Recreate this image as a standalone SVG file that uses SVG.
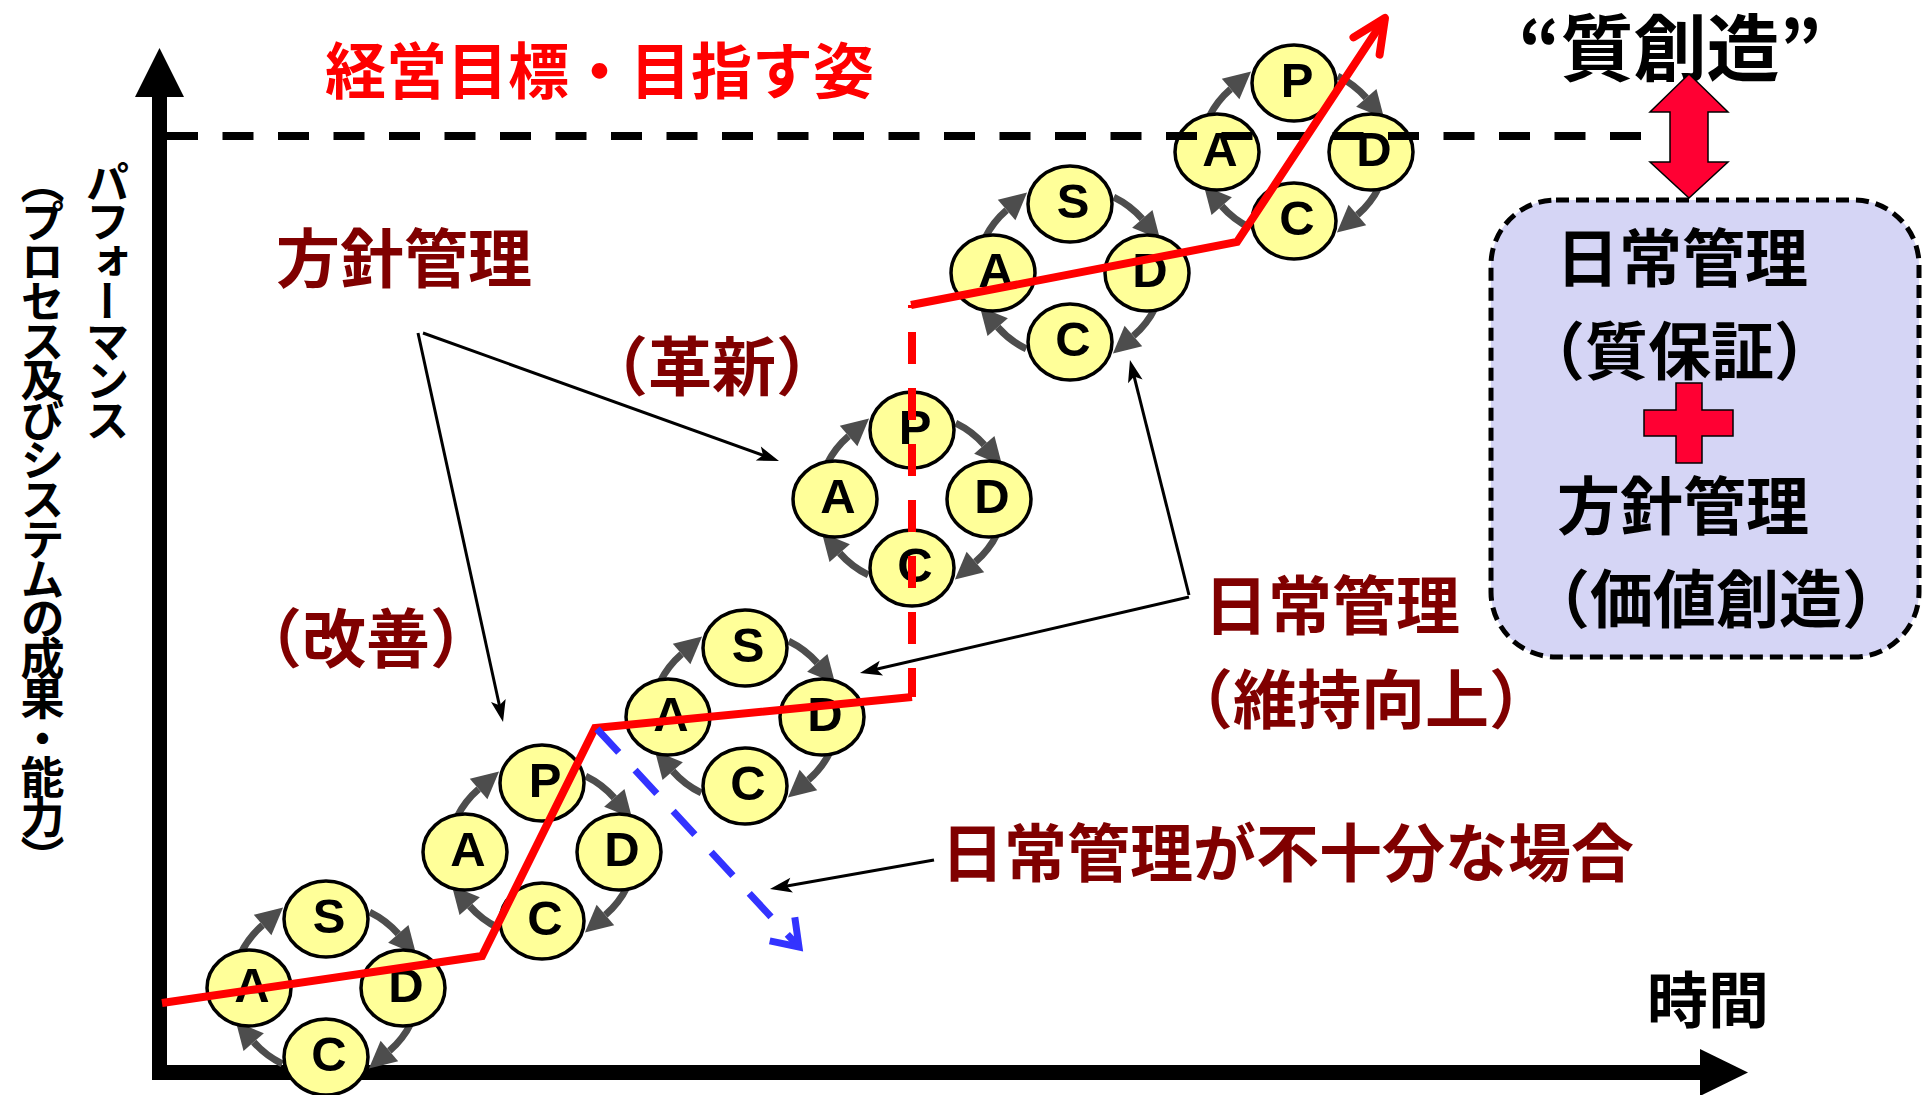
<svg xmlns="http://www.w3.org/2000/svg" width="1922" height="1095" viewBox="0 0 1922 1095">
<style>
  .jp { font-family: "Noto Sans CJK JP", "Noto Sans CJK SC", sans-serif; font-weight: 700; }
  .dr { fill: #800000; }
  .vert { writing-mode: vertical-rl; letter-spacing: -4.3px; }
  .node ellipse { fill: #FFFF99; stroke: #000; stroke-width: 3.5; }
  .node text { font-family: "Liberation Sans", Arial, sans-serif; font-weight: 700; font-size: 49px; text-anchor: middle; fill: #000; }
  .cyc { fill: none; stroke: #4D4D4D; stroke-width: 7; marker-end: url(#gh); }
  .thin { fill: none; stroke: #000; stroke-width: 3; marker-end: url(#ah); }
  .redline { fill: none; stroke: #FF0000; stroke-width: 8; }
  .blueline { fill: none; stroke: #3333FF; stroke-width: 7; }
  .block { fill: #FF0033; stroke: #000; stroke-width: 1.5; }
</style>
<defs>
  <marker id="gh" markerUnits="userSpaceOnUse" viewBox="-2 -16 32 32" markerWidth="32" markerHeight="32" refX="0" refY="0" orient="auto">
    <path d="M0,-13.5 L27,0 L0,13.5 z" fill="#4D4D4D"/>
  </marker>
  <marker id="ah" markerUnits="userSpaceOnUse" viewBox="-14 -10 26 20" markerWidth="26" markerHeight="20" refX="0" refY="0" orient="auto">
    <path d="M10,0 L-12,-7.5 L-7,0 L-12,7.5 z" fill="#000"/>
  </marker>
  <g id="arcs">
    <path class="cyc" d="M-85,-35 A93,86 0 0 1 -63.4,-62.9"/>
    <path class="cyc" d="M43.7,-75.9 A93,86 0 0 1 72.3,-54.1"/>
    <path class="cyc" d="M85,35 A93,86 0 0 1 63.4,62.9"/>
    <path class="cyc" d="M-43.7,75.9 A93,86 0 0 1 -72.3,54.1"/>
  </g>
</defs>
<rect width="1922" height="1095" fill="#FFFFFF"/>

<!-- axes -->
<g id="axes">
  <path d="M159.5,94 V1072.5 H1702" fill="none" stroke="#000" stroke-width="15"/>
  <polygon points="159.5,48 135,97 184,97" fill="#000"/>
  <polygon points="1748,1072.5 1700,1049 1700,1096" fill="#000"/>
</g>

<!-- right summary box -->
<g id="summary-box">
  <rect x="1491" y="200" width="428" height="457" rx="65" ry="65" fill="#D5D5F5" stroke="#000" stroke-width="5" stroke-dasharray="13 7"/>
  <text class="jp" x="1556" y="281" font-size="63" fill="#000">日常管理</text>
  <text class="jp" x="1522" y="374" font-size="63" fill="#000">（質保証）</text>
  <polygon class="block" points="1676,383 1702,383 1702,410 1733,410 1733,436 1702,436 1702,463 1676,463 1676,436 1644,436 1644,410 1676,410"/>
  <text class="jp" x="1557" y="529" font-size="63" fill="#000">方針管理</text>
  <text class="jp" x="1527" y="622" font-size="63" fill="#000">（価値創造）</text>
</g>

<!-- labels -->
<g id="label-goal"><text class="jp" x="325" y="94" font-size="61" fill="#FF0000">経営目標・目指す姿</text></g>
<g id="label-quality"><text class="jp" x="1670" y="75" font-size="73" text-anchor="middle" fill="#000">“質創造”</text></g>
<g id="label-hoshin"><text class="jp dr" x="276" y="282" font-size="64">方針管理</text></g>
<g id="label-kakushin"><text class="jp dr" x="584" y="390" font-size="64">（革新）</text></g>
<g id="label-kaizen"><text class="jp dr" x="238" y="662" font-size="64">（改善）</text></g>
<g id="label-nichijo"><text class="jp dr" x="1204" y="629" font-size="64">日常管理</text></g>
<g id="label-iji"><text class="jp dr" x="1169" y="723" font-size="64">（維持向上）</text></g>
<g id="label-fujubun"><text class="jp dr" x="941" y="876" font-size="63">日常管理が不十分な場合</text></g>
<g id="label-time"><text class="jp" x="1647" y="1023" font-size="61" fill="#000">時間</text></g>
<g id="label-yaxis">
  <text class="jp vert" x="107.5" y="160" font-size="44" fill="#000">パフォーマンス</text>
  <text class="jp vert" x="42.5" y="160" font-size="44" fill="#000">（プロセス及びシステムの成果・能力）</text>
</g>

<!-- connectors -->
<g id="connectors">
  <use href="#arcs" x="326" y="988"/>
  <use href="#arcs" x="542" y="852"/>
  <use href="#arcs" x="745" y="717"/>
  <use href="#arcs" x="912" y="499"/>
  <use href="#arcs" x="1070" y="273"/>
  <use href="#arcs" x="1294" y="152"/>
  <path class="thin" d="M423,333 L769.6,457.6"/>
  <path class="thin" d="M418,333 L500.9,712.2"/>
  <path class="thin" d="M1189,595 L1132.4,369.7"/>
  <path class="thin" d="M1189,597 L869.7,670.8"/>
  <path class="thin" d="M934,860 L779.8,887.3"/>
  <polygon class="block" points="1689,74 1728,112 1708,112 1708,162 1728,162 1689,198 1650,162 1670,162 1670,112 1650,112"/>
</g>

<!-- PDCA / SDCA cycle nodes -->
<g id="cycle1" class="node" transform="translate(326,988)">
  <g id="c1-top"><ellipse cx="0" cy="-69" rx="42" ry="38"/><text x="3" y="-55">S</text></g>
  <g id="c1-left"><ellipse cx="-77" cy="0" rx="42" ry="38"/><text x="-74" y="14">A</text></g>
  <g id="c1-right"><ellipse cx="77" cy="0" rx="42" ry="38"/><text x="80" y="14">D</text></g>
  <g id="c1-bottom"><ellipse cx="0" cy="69" rx="42" ry="38"/><text x="3" y="83">C</text></g>
</g>
<g id="cycle2" class="node" transform="translate(542,852)">
  <g id="c2-top"><ellipse cx="0" cy="-69" rx="42" ry="38"/><text x="3" y="-55">P</text></g>
  <g id="c2-left"><ellipse cx="-77" cy="0" rx="42" ry="38"/><text x="-74" y="14">A</text></g>
  <g id="c2-right"><ellipse cx="77" cy="0" rx="42" ry="38"/><text x="80" y="14">D</text></g>
  <g id="c2-bottom"><ellipse cx="0" cy="69" rx="42" ry="38"/><text x="3" y="83">C</text></g>
</g>
<g id="cycle3" class="node" transform="translate(745,717)">
  <g id="c3-top"><ellipse cx="0" cy="-69" rx="42" ry="38"/><text x="3" y="-55">S</text></g>
  <g id="c3-left"><ellipse cx="-77" cy="0" rx="42" ry="38"/><text x="-74" y="14">A</text></g>
  <g id="c3-right"><ellipse cx="77" cy="0" rx="42" ry="38"/><text x="80" y="14">D</text></g>
  <g id="c3-bottom"><ellipse cx="0" cy="69" rx="42" ry="38"/><text x="3" y="83">C</text></g>
</g>
<g id="cycle4" class="node" transform="translate(912,499)">
  <g id="c4-top"><ellipse cx="0" cy="-69" rx="42" ry="38"/><text x="3" y="-55">P</text></g>
  <g id="c4-left"><ellipse cx="-77" cy="0" rx="42" ry="38"/><text x="-74" y="14">A</text></g>
  <g id="c4-right"><ellipse cx="77" cy="0" rx="42" ry="38"/><text x="80" y="14">D</text></g>
  <g id="c4-bottom"><ellipse cx="0" cy="69" rx="42" ry="38"/><text x="3" y="83">C</text></g>
</g>
<g id="cycle5" class="node" transform="translate(1070,273)">
  <g id="c5-top"><ellipse cx="0" cy="-69" rx="42" ry="38"/><text x="3" y="-55">S</text></g>
  <g id="c5-left"><ellipse cx="-77" cy="0" rx="42" ry="38"/><text x="-74" y="14">A</text></g>
  <g id="c5-right"><ellipse cx="77" cy="0" rx="42" ry="38"/><text x="80" y="14">D</text></g>
  <g id="c5-bottom"><ellipse cx="0" cy="69" rx="42" ry="38"/><text x="3" y="83">C</text></g>
</g>
<g id="cycle6" class="node" transform="translate(1294,152)">
  <g id="c6-top"><ellipse cx="0" cy="-69" rx="42" ry="38"/><text x="3" y="-55">P</text></g>
  <g id="c6-left"><ellipse cx="-77" cy="0" rx="42" ry="38"/><text x="-74" y="14">A</text></g>
  <g id="c6-right"><ellipse cx="77" cy="0" rx="42" ry="38"/><text x="80" y="14">D</text></g>
  <g id="c6-bottom"><ellipse cx="0" cy="69" rx="42" ry="38"/><text x="3" y="83">C</text></g>
</g>

<!-- target line and performance lines -->
<g id="performance-lines">
  <path d="M167,136 H1642" fill="none" stroke="#000" stroke-width="8" stroke-dasharray="31 24.5"/>
  <path class="redline" d="M162,1003 L482,956 L595,728 L912,697"/>
  <path class="redline" d="M912,697 V305" stroke-dasharray="32 24" stroke-dashoffset="3"/>
  <path class="redline" d="M911,305 L1237,242 L1385,18"/>
  <path class="redline" d="M1353.5,37.4 L1385,18 L1379.6,54.6" stroke-linecap="round" stroke-linejoin="round"/>
  <path class="blueline" d="M597,729 L799,947" stroke-dasharray="32 24"/>
  <path class="blueline" d="M794.8,917.3 L799,947 L769.7,940.8"/>
</g>
</svg>
